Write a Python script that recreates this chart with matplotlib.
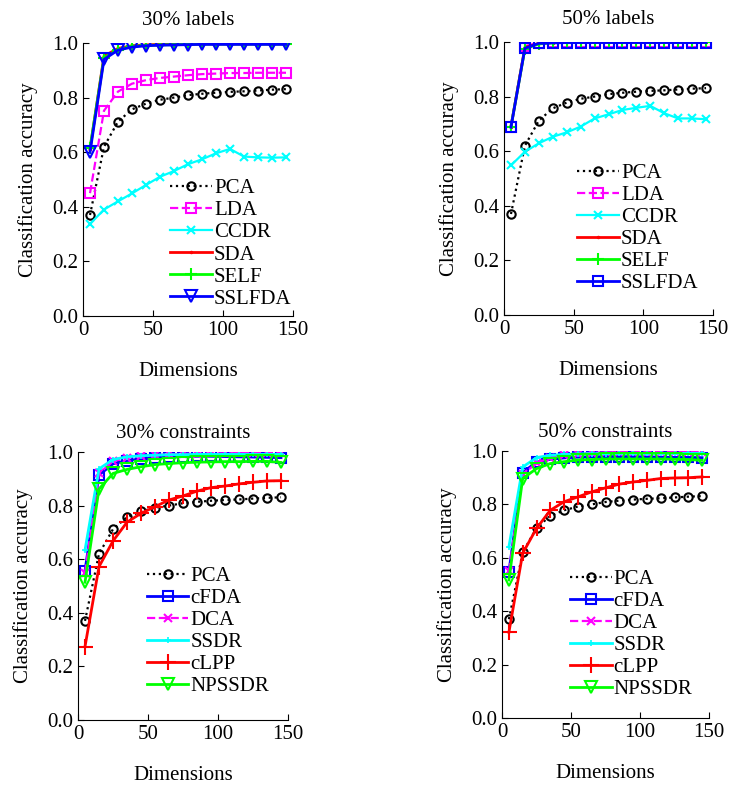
import numpy as np
import matplotlib
matplotlib.use("Agg")
import matplotlib.pyplot as plt

# # Data _________________________________________________________________________________________
dims = [5, 15, 25, 35, 45, 55, 65, 75, 85, 95, 105, 115, 125, 135, 145]

pca = [0.37, 0.62, 0.712, 0.757, 0.778, 0.792, 0.80, 0.809, 0.814, 0.818, 0.821, 0.823, 0.826, 0.829, 0.831]

# 30% labels
lda_30 = [0.45, 0.752, 0.822, 0.851, 0.864, 0.872, 0.877, 0.882, 0.886, 0.888, 0.89, 0.89, 0.891, 0.891, 0.891]
ccdr_30 = [0.337, 0.39, 0.42, 0.449, 0.48, 0.51, 0.531, 0.556, 0.574, 0.596, 0.612, 0.584, 0.581, 0.58, 0.581]
sda_30 = [0.61, 0.952, 0.98, 0.99, 0.993, 0.995, 0.995, 0.996, 0.997, 0.997, 0.997, 0.997, 0.997, 0.997, 0.997]
self_30 = [0.615, 0.946, 0.976, 0.988, 0.991, 0.993, 0.994, 0.995, 0.996, 0.996, 0.996, 0.996, 0.996, 0.996, 0.996]
sslfda_30 = [0.60, 0.94, 0.974, 0.985, 0.99, 0.992, 0.993, 0.994, 0.995, 0.995, 0.995, 0.995, 0.995, 0.995, 0.995]

# 50% labels
lda_50 = [0.69, 0.985, 0.997, 0.999, 0.999, 1.0, 1.0, 1.0, 1.0, 1.0, 1.0, 1.0, 1.0, 1.0, 1.0]
ccdr_50 = [0.548, 0.598, 0.629, 0.653, 0.669, 0.69, 0.72, 0.735, 0.751, 0.759, 0.766, 0.739, 0.72, 0.72, 0.717]
sda_50 = [0.69, 0.98, 0.995, 0.998, 0.999, 1.0, 1.0, 1.0, 1.0, 1.0, 1.0, 1.0, 1.0, 1.0, 1.0]
self_50 = [0.69, 0.975, 0.993, 0.997, 0.998, 0.999, 0.999, 0.999, 0.999, 0.999, 0.999, 0.999, 0.999, 0.999, 0.999]
sslfda_50 = [0.688, 0.977, 0.995, 0.997, 0.998, 0.998, 0.998, 0.998, 0.998, 0.998, 0.998, 0.998, 0.998, 0.998, 0.998]

# 30% constraints
cfda_30 = [0.557, 0.914, 0.956, 0.968, 0.974, 0.978, 0.981, 0.983, 0.984, 0.984, 0.983, 0.982, 0.981, 0.98, 0.979]
dca_30 = [0.55, 0.92, 0.965, 0.978, 0.985, 0.989, 0.991, 0.993, 0.994, 0.995, 0.995, 0.996, 0.996, 0.996, 0.996]
ssdr_30 = [0.634, 0.937, 0.972, 0.982, 0.986, 0.988, 0.99, 0.99, 0.991, 0.991, 0.991, 0.991, 0.991, 0.991, 0.991]
clpp_30 = [0.274, 0.572, 0.668, 0.738, 0.771, 0.796, 0.821, 0.836, 0.854, 0.867, 0.873, 0.881, 0.887, 0.892, 0.893]
npssdr_30 = [0.514, 0.862, 0.92, 0.935, 0.945, 0.953, 0.957, 0.96, 0.962, 0.963, 0.964, 0.964, 0.965, 0.965, 0.961]

# 50% constraints
cfda_50 = [0.548, 0.919, 0.959, 0.969, 0.974, 0.977, 0.978, 0.979, 0.979, 0.979, 0.978, 0.977, 0.976, 0.976, 0.975]
dca_50 = [0.55, 0.912, 0.955, 0.975, 0.985, 0.99, 0.993, 0.995, 0.996, 0.997, 0.997, 0.998, 0.998, 0.998, 0.998]
ssdr_50 = [0.641, 0.94, 0.975, 0.984, 0.987, 0.989, 0.99, 0.99, 0.991, 0.991, 0.991, 0.991, 0.991, 0.991, 0.991]
clpp_50 = [0.321, 0.617, 0.71, 0.778, 0.81, 0.828, 0.847, 0.862, 0.876, 0.884, 0.89, 0.897, 0.899, 0.9, 0.903]
npssdr_50 = [0.517, 0.897, 0.934, 0.953, 0.96, 0.966, 0.968, 0.97, 0.97, 0.97, 0.97, 0.97, 0.969, 0.968, 0.965]

titles = ["30% labels", "50% labels", "30% constraints", "50% constraints"]

# # Styles _______________________________________________________________________________________
plt.rcParams['font.family'] = ['Liberation Serif', 'DejaVu Serif']
FS = 15

W, H = 729, 785
fig = plt.figure(figsize=(W / 100, H / 100), dpi=100)

# axes boxes in pixels: left, right, top, bottom
boxes = [(83, 293, 43, 316), (504, 713, 42, 315), (78, 288, 452, 720), (502, 709, 451, 718)]
leg_pos = [(0.415, 0.503), (0.35, 0.556), (0.327, 0.573), (0.328, 0.557)]
title_pad = [13, 13, 10, 10]

pca_style = dict(color='black', ls=':', marker='o', mfc='none', ms=6, mew=1.5, lw=1.6)


def make_axes(i):
    l, r, t, b = boxes[i]
    ax = fig.add_axes([l / W, 1 - b / H, (r - l) / W, (b - t) / H])
    ax.set_xlim(0, 150)
    ax.set_ylim(0, 1.0)
    ax.set_xticks([0, 50, 100, 150])
    ax.set_yticks(np.arange(0, 1.01, 0.2))
    ax.yaxis.set_major_formatter(matplotlib.ticker.FormatStrFormatter('%.1f'))
    ax.spines['top'].set_visible(False)
    ax.spines['right'].set_visible(False)
    ax.tick_params(direction='in', labelsize=FS, length=4)
    ax.set_title(titles[i], fontsize=FS, pad=title_pad[i])
    ax.set_xlabel("Dimensions", fontsize=FS, labelpad=16)
    ax.set_ylabel("Classification accuracy", fontsize=FS, labelpad=10)
    return ax


def add_legend(ax, i):
    ax.legend(loc='upper left', bbox_to_anchor=leg_pos[i], frameon=False, fontsize=FS,
              borderpad=0, labelspacing=0.12, handlelength=2.0, handletextpad=0.1, borderaxespad=0)


# # 30% labels
ax = make_axes(0)
ax.plot(dims, pca, label="PCA", **pca_style)
ax.plot(dims, lda_30, color='magenta', ls='--', marker='s', mfc='none', ms=7.5, mew=1.5, lw=1.6, label="LDA")
ax.plot(dims, ccdr_30, color='cyan', marker='x', ms=5.5, mew=1.5, lw=1.6, label="CCDR")
ax.plot(dims, sda_30, color='red', marker='.', ms=3, lw=2, label="SDA")
ax.plot(dims, self_30, color='lime', marker='+', ms=9, mew=1.5, lw=2, label="SELF")
ax.plot(dims, sslfda_30, color='blue', marker='v', mfc='none', ms=8, mew=1.5, lw=2, label="SSLFDA")
add_legend(ax, 0)

# # 50% labels
ax = make_axes(1)
ax.plot(dims, pca, label="PCA", **pca_style)
ax.plot(dims, lda_50, color='magenta', ls='--', marker='s', mfc='none', ms=7.5, mew=1.5, lw=1.6, label="LDA")
ax.plot(dims, ccdr_50, color='cyan', marker='x', ms=5.5, mew=1.5, lw=1.6, label="CCDR")
ax.plot(dims, sda_50, color='red', marker='.', ms=3, lw=2, label="SDA")
ax.plot(dims, self_50, color='lime', marker='+', ms=9, mew=1.5, lw=2, label="SELF")
ax.plot(dims, sslfda_50, color='blue', marker='s', mfc='none', ms=7.5, mew=1.5, lw=2, label="SSLFDA")
add_legend(ax, 1)

# # 30% constraints
ax = make_axes(2)
ax.plot(dims, pca, label="PCA", **pca_style)
ax.plot(dims, cfda_30, color='blue', marker='s', mfc='none', ms=7.5, mew=1.5, lw=2, label="cFDA")
ax.plot(dims, dca_30, color='magenta', ls='--', marker='x', ms=5.5, mew=1.5, lw=1.6, label="DCA")
ax.plot(dims, ssdr_30, color='cyan', marker='+', ms=4, mew=1.2, lw=2, label="SSDR")
ax.plot(dims, clpp_30, color='red', marker='+', ms=11, mew=1.5, lw=2, label="cLPP")
ax.plot(dims, npssdr_30, color='lime', marker='v', mfc='none', ms=8, mew=1.5, lw=2, label="NPSSDR")
add_legend(ax, 2)

# # 50% constraints
ax = make_axes(3)
ax.plot(dims, pca, label="PCA", **pca_style)
ax.plot(dims, cfda_50, color='blue', marker='s', mfc='none', ms=7.5, mew=1.5, lw=2, label="cFDA")
ax.plot(dims, dca_50, color='magenta', ls='--', marker='x', ms=5.5, mew=1.5, lw=1.6, label="DCA")
ax.plot(dims, ssdr_50, color='cyan', marker='+', ms=4, mew=1.2, lw=2, label="SSDR")
ax.plot(dims, clpp_50, color='red', marker='+', ms=11, mew=1.5, lw=2, label="cLPP")
ax.plot(dims, npssdr_50, color='lime', marker='v', mfc='none', ms=8, mew=1.5, lw=2, label="NPSSDR")
add_legend(ax, 3)

fig.savefig("out.png", dpi=100)
